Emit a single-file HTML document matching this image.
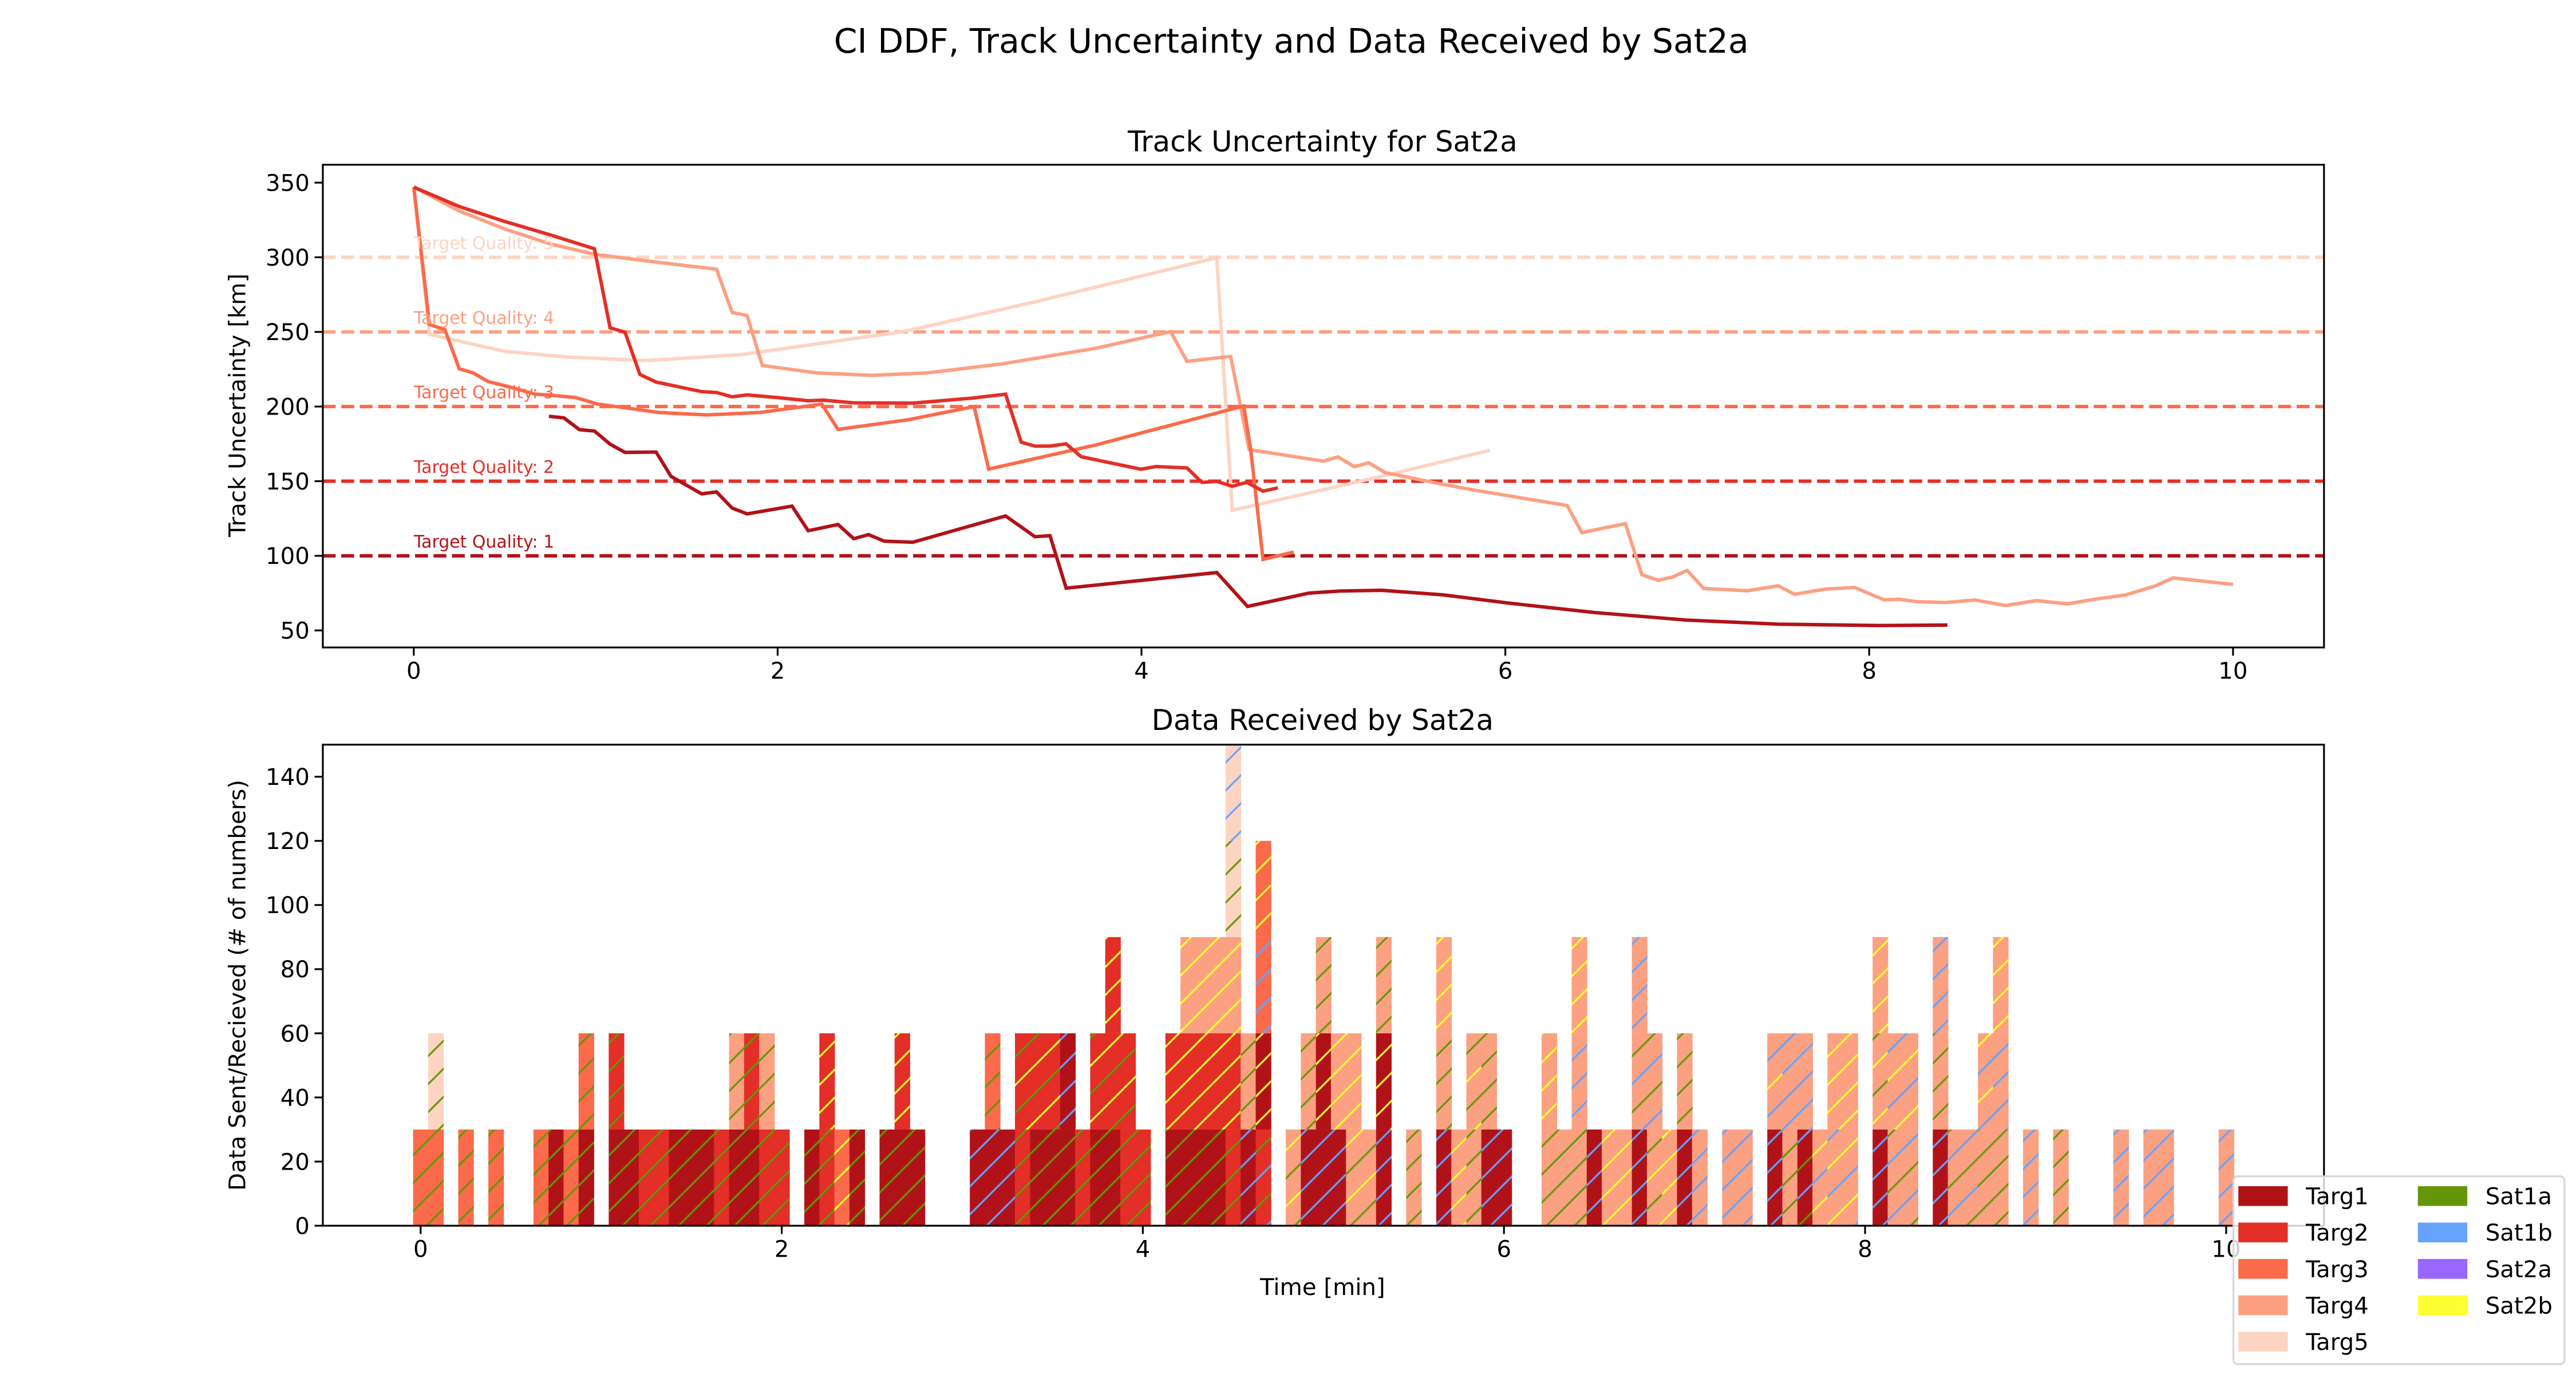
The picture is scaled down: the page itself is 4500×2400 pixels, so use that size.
<!DOCTYPE html>
<html><head><meta charset="utf-8"><style>
html,body{margin:0;padding:0;background:#fff;}
svg{display:block;font-family:"DejaVu Sans","Liberation Sans",sans-serif;}
</style></head><body>
<svg id="fig" width="4500" height="2400" viewBox="0 0 1564 834" preserveAspectRatio="none" xmlns="http://www.w3.org/2000/svg">
<defs id="defs"></defs>
<rect x="0" y="0" width="1564" height="834" fill="#fff"/>
<text x="784" y="32" font-size="20.3" text-anchor="middle">CI DDF, Track Uncertainty and Data Received by Sat2a</text>
<g id="topChart"></g>
<g id="botChart"></g>
<g id="legend"></g>
</svg>
<script>
// ---------- top chart data ----------
const targetNames = ["Targ1","Targ2","Targ3","Targ4","Targ5"];
const targetColors = ["#b11218","#e32f27","#fb6a4a","#fca082","#fdd4c2"];
const qualityLevels = [100,150,200,250,300];
const qualityLabels = ["Target Quality: 1","Target Quality: 2","Target Quality: 3","Target Quality: 4","Target Quality: 5"];
const topXTicks = [0,2,4,6,8,10];
const topYTicks = [50,100,150,200,250,300,350];
const targ1T = [0.743,0.825,0.911,0.993,1.079,1.161,1.332,1.414,1.582,1.664,1.75,1.832,2.079,2.168,2.332,2.418,2.5,2.586,2.743,3.253,3.414,3.497,3.586,4.414,4.583,4.92,5.09,5.32,5.66,6.02,6.49,6.99,7.5,8.05,8.43];
const targ1V = [193.5,192.4,184.5,183.6,174.8,169.3,169.5,153.2,141.5,142.8,132,128.1,133.3,116.8,121,111.5,114.2,109.8,109.1,126.7,112.8,113.5,78.3,88.8,66.1,75,76.4,76.9,73.8,68.3,62,57,54.2,53.3,53.6];
const targ2T = [0,0.25,0.5,0.75,0.993,1.079,1.161,1.243,1.332,1.582,1.664,1.75,1.832,2.0,2.168,2.25,2.418,2.743,3.065,3.253,3.339,3.414,3.497,3.586,3.668,3.997,4.079,4.25,4.332,4.414,4.499,4.58,4.668,4.75];
const targ2V = [347,334,324,315,305.7,252.8,249.8,221.5,216.4,210,209.4,206.5,207.8,206,203.9,204.3,202.5,202.3,205.6,208.3,176.1,173.5,173.5,175,166.4,158,159.8,158.9,149.2,149.9,146.6,149.2,143.3,145.5];
const targ3T = [0,0.086,0.171,0.25,0.325,0.41,0.5,0.668,0.736,0.89,1.01,1.35,1.61,1.9,2.243,2.332,2.72,3.08,3.16,3.75,4.562,4.6,4.668,4.837];
const targ3V = [347,255,251.5,225.3,222.6,216.7,214,208.3,207.8,206,201.7,196,194.4,196,201.6,184.7,191.2,200,158.1,174.3,200.4,171.4,97.6,102.5];
const targ4T = [0,0.25,0.5,0.75,0.993,1.35,1.664,1.75,1.832,1.916,2.21,2.517,2.825,3.236,3.75,4.16,4.25,4.49,4.592,5.0,5.08,5.17,5.25,5.34,5.66,5.84,6.34,6.42,6.66,6.75,6.84,6.92,7.0,7.09,7.33,7.5,7.59,7.76,7.92,8.08,8.17,8.26,8.42,8.58,8.75,8.92,9.09,9.25,9.41,9.57,9.67,10.0];
const targ4V = [347,331,319,309,302,296.5,292,263,261,227.5,222.6,220.9,222.6,228.6,239.1,250.2,230.3,233.6,171.2,163.4,166.3,159.7,162.3,155.7,147.8,143.8,133.7,115.6,121.5,87.4,83.6,85.8,90.2,78.1,76.6,79.9,74.2,77.7,78.8,70.6,70.9,69.3,68.7,70.4,66.7,70,67.8,71.1,73.8,79.7,85.2,80.8];
const targ5T = [0,0.086,0.5,0.84,1.28,1.8,2.69,3.41,4.414,4.499,4.88,5.3,5.915];
const targ5V = [347,248.4,237,233.2,230.8,234.8,250.2,270,299.7,130.5,141,152.7,170.7];

// ---------- bottom chart data ----------
const barBins = [0,1,3,5,8,9,10,11,13,14,15,16,17,18,19,20,21,22,23,24,26,27,28,29,31,32,33,37,38,39,40,41,42,43,44,45,46,47,48,50,51,52,53,54,55,56,58,59,60,61,62,63,64,66,68,69,70,71,72,75,76,77,78,79,80,81,82,83,84,85,87,88,90,91,92,93,94,95,97,98,99,101,102,103,104,105,107,109,113,115,116,120];
const barStacks = ["3g","3g 5g","3g","3g","3g","1g","3g","1g 3g","1g 2g","1g","2g","2g","1g","1g","1g","2g","1g 4g","1g 2g","2g 4g","2g","1g","2g 2y","3y","1g","1g","1g 2y","1g","1b","1b 3g","1b","2g 2gy","1g 2gy","1g 2gy","1g 1b","2g","1g 2gy","1g 2gy 2y","2g 2gy","2g","1g 2y","1g 2y 4y","1g 2y 4y","1g 2y 4y","2g 2y 4y 5g 5b","1b 4g","2gb 1y 3b 3y","4gy","1b 4g","1b 1y 4g","1b 4y","4gy 4y","4gy","1b 1y 4g","4g","1b 4g 4y","4y","4g 4gy","1b 4g","1b","4g 4y","4g","4g 4b 4y","1b","4y","4y","1b 4gb 4b","4gy 4gb","4y","1b 4g","4b","4b","4b","1b 4yb","4g 4b","1gb 4b","4yb","4by 4y","4by 4y","1b 4gy 4y","4gb 4yb","4gb 4yb","1b 4g 4b","4gb","4gb","4g 4yb","4g 4b 4y","4b","4g","4b","4b","4b","4b"];
const blockSize = 30;
const binMinutes = 1/12;
const botXTicks = [0,2,4,6,8,10];
const botYTicks = [0,20,40,60,80,100,120,140];
const satNames = ["Sat1a","Sat1b","Sat2a","Sat2b"];
const satColors = ["#649705","#66a3ff","#9966ff","#ffff33"];
const satCodes = ["g","b","p","y"];

const NS="http://www.w3.org/2000/svg";
function mk(tag, attrs, parent){const e=document.createElementNS(NS,tag);for(const k in attrs)e.setAttribute(k,attrs[k]);if(parent)parent.appendChild(e);return e;}

const AX={l:196,r:1411};
const TOP={t:100,b:393,x0:-0.5,x1:10.5,y0:38.6,y1:362};
const BOT={t:452,b:744,x0:-0.5417,x1:10.5417,y0:0,y1:150};
const xT=t=>AX.l+(t-TOP.x0)/(TOP.x1-TOP.x0)*(AX.r-AX.l);
const yT=v=>TOP.b-(v-TOP.y0)/(TOP.y1-TOP.y0)*(TOP.b-TOP.t);
const xB=t=>AX.l+(t-BOT.x0)/(BOT.x1-BOT.x0)*(AX.r-AX.l);
const yB=v=>BOT.b-(v-BOT.y0)/(BOT.y1-BOT.y0)*(BOT.b-BOT.t);

const topG=document.getElementById('topChart');
const botG=document.getElementById('botChart');
const defsEl=document.getElementById('defs');

const cp1=mk('clipPath',{id:'clipTop'},defsEl);mk('rect',{x:AX.l,y:TOP.t,width:AX.r-AX.l,height:TOP.b-TOP.t},cp1);
const cp2=mk('clipPath',{id:'clipBot'},defsEl);mk('rect',{x:AX.l,y:BOT.t,width:AX.r-AX.l,height:BOT.b-BOT.t},cp2);

// ---------- top chart ----------
const topPlot=mk('g',{'clip-path':'url(#clipTop)'},topG);
qualityLevels.forEach((q,i)=>{
  const l=mk('line',{x1:AX.l,x2:AX.r,y1:yT(q),y2:yT(q),stroke:targetColors[i],'stroke-width':2.1,'stroke-dasharray':'7.8,3.4'},topPlot);
  
  
});
const seriesT=[targ1T,targ2T,targ3T,targ4T,targ5T];
const seriesV=[targ1V,targ2V,targ3V,targ4V,targ5V];
for(let i=4;i>=0;i--){
  const pts=seriesT[i].map((t,j)=>xT(t).toFixed(2)+','+yT(seriesV[i][j]).toFixed(2)).join(' ');
  const pl=mk('polyline',{points:pts,fill:'none',stroke:targetColors[i],'stroke-width':2.1},topPlot);
  
  
}
qualityLevels.forEach((q,i)=>{
  const tx=mk('text',{x:xT(0),y:yT(q)-5,'font-size':10.4,fill:targetColors[i]},topG);
  tx.textContent=qualityLabels[i];
  
  
});
mk('rect',{x:AX.l,y:TOP.t,width:AX.r-AX.l,height:TOP.b-TOP.t,fill:'none',stroke:'#000','stroke-width':1.1},topG);
topXTicks.forEach(t=>{
  mk('line',{x1:xT(t),x2:xT(t),y1:TOP.b,y2:TOP.b+5,stroke:'#000','stroke-width':1.1},topG);
  const tx=mk('text',{x:xT(t),y:TOP.b+19,'font-size':14,'text-anchor':'middle'},topG);
  tx.textContent=t;
  
  
});
topYTicks.forEach(v=>{
  mk('line',{x1:AX.l-5,x2:AX.l,y1:yT(v),y2:yT(v),stroke:'#000','stroke-width':1.1},topG);
  const tx=mk('text',{x:AX.l-8,y:yT(v)+5,'font-size':14,'text-anchor':'end'},topG);
  tx.textContent=v;
  
  
});
let tt=mk('text',{x:803,y:92,'font-size':17.3,'text-anchor':'middle'},topG);tt.textContent='Track Uncertainty for Sat2a';

tt=mk('text',{x:0,y:0,'font-size':14,'text-anchor':'middle',transform:'translate(149,246) rotate(-90)'},topG);tt.textContent='Track Uncertainty [km]';


// ---------- bottom chart ----------
const hs=17;
const patCache={};
function hatchPattern(hatch){
  if(patCache[hatch])return patCache[hatch];
  const id='hp_'+hatch;
  const cols=hatch.split('').map(c=>satColors[satCodes.indexOf(c)]);
  const n=cols.length, S=hs*n;
  const p=mk('pattern',{id:id,patternUnits:'userSpaceOnUse',width:S,height:S},defsEl);
  for(let k=0;k<n;k++){
    const c=cols[k];
    for(let m=-1;m<=2;m++){
      const s=k*hs+m*S;
      mk('line',{x1:s-S-2,y1:S+2,x2:s+2,y2:-2,stroke:c,'stroke-width':1.1},p);
    }
  }
  patCache[hatch]=id;return id;
}
const botPlot=mk('g',{'clip-path':'url(#clipBot)'},botG);
const bw=binMinutes;
barBins.forEach((b,i)=>{
  const t=b*binMinutes;
  const toks=barStacks[i].split(' ');
  let base=0;
  toks.forEach(tok=>{
    const tg=parseInt(tok[0])-1, hatch=tok.slice(1);
    const x=xB(t-bw/2), w=xB(t+bw/2)-x, y=yB(base+blockSize), h=yB(base)-y;
    const r=mk('rect',{x:x.toFixed(2),y:y.toFixed(2),width:(w+0.3).toFixed(2),height:h.toFixed(2),fill:targetColors[tg]},botPlot);
    
    
    const hr=mk('rect',{x:x.toFixed(2),y:y.toFixed(2),width:(w+0.3).toFixed(2),height:h.toFixed(2),fill:'url(#'+hatchPattern(hatch)+')'},botPlot);
    
    
    base+=blockSize;
  });
});
mk('rect',{x:AX.l,y:BOT.t,width:AX.r-AX.l,height:BOT.b-BOT.t,fill:'none',stroke:'#000','stroke-width':1.1},botG);
botXTicks.forEach(t=>{
  mk('line',{x1:xB(t),x2:xB(t),y1:BOT.b,y2:BOT.b+5,stroke:'#000','stroke-width':1.1},botG);
  const tx=mk('text',{x:xB(t),y:BOT.b+19,'font-size':14,'text-anchor':'middle'},botG);
  tx.textContent=t;
  
  
});
botYTicks.forEach(v=>{
  mk('line',{x1:AX.l-5,x2:AX.l,y1:yB(v),y2:yB(v),stroke:'#000','stroke-width':1.1},botG);
  const tx=mk('text',{x:AX.l-8,y:yB(v)+5,'font-size':14,'text-anchor':'end'},botG);
  tx.textContent=v;
  
  
});
tt=mk('text',{x:803,y:443,'font-size':17.3,'text-anchor':'middle'},botG);tt.textContent='Data Received by Sat2a';

tt=mk('text',{x:803,y:786,'font-size':14,'text-anchor':'middle'},botG);tt.textContent='Time [min]';

tt=mk('text',{x:0,y:0,'font-size':14,'text-anchor':'middle',transform:'translate(149,598) rotate(-90)'},botG);tt.textContent='Data Sent/Recieved (# of numbers)';


// ---------- legend ----------
const lg=document.getElementById('legend');
mk('rect',{x:1356,y:714,width:201,height:114,rx:2.5,fill:'#fff','fill-opacity':0.8,stroke:'#d6d6d6','stroke-width':1.1},lg);
targetNames.forEach((n,i)=>{
  const y=720+i*22.1;
  const r=mk('rect',{x:1359,y:y,width:30,height:12,fill:targetColors[i]},lg);
  
  const tx=mk('text',{x:1400,y:y+11,'font-size':14},lg);tx.textContent=n;
  
});
satNames.forEach((n,i)=>{
  const y=720+i*22.1;
  const r=mk('rect',{x:1468,y:y,width:30,height:12,fill:satColors[i]},lg);
  
  const tx=mk('text',{x:1509,y:y+11,'font-size':14},lg);tx.textContent=n;
  
});
</script>
</body></html>
